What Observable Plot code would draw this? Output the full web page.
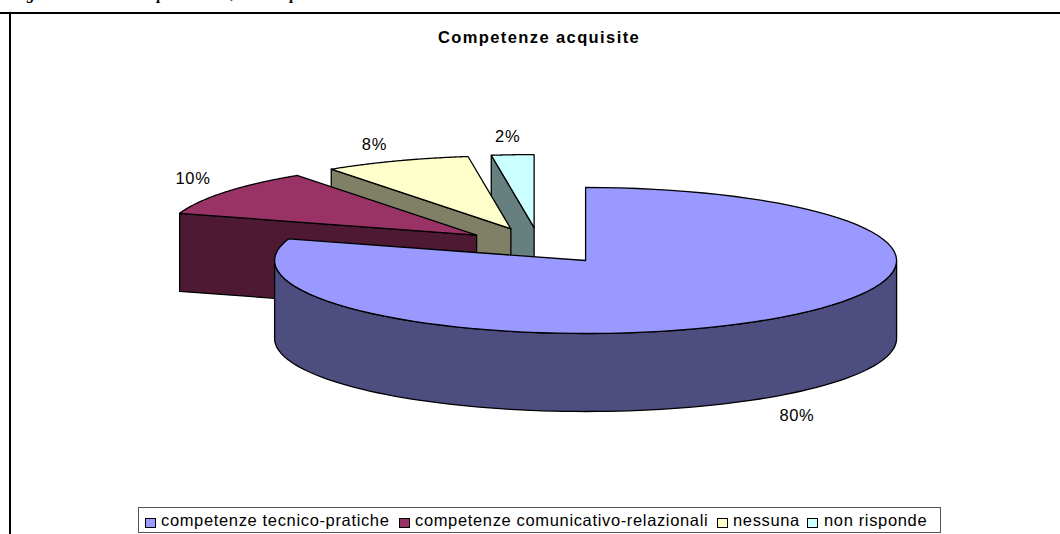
<!DOCTYPE html>
<html>
<head>
<meta charset="utf-8">
<script src="https://cdn.jsdelivr.net/npm/d3@7"></script>
<script src="https://cdn.jsdelivr.net/npm/@observablehq/plot@0.6"></script>
<style>
  html, body { margin: 0; padding: 0; background: #fff; }
  body { position: relative; width: 1060px; height: 534px; overflow: hidden; font-family: "Liberation Sans", Arial, sans-serif; color: #000; }
  svg { display: block; position: absolute; left: 0; top: 0; }
  .frag { position: absolute; top: -15px; font: italic bold 16px "Liberation Serif", serif; line-height: 18px; }
  #title { position: absolute; left: 0; width: 1078px; top: 28px; text-align: center; font-weight: bold; font-size: 16.5px; letter-spacing: 1.4px; line-height: 18px; }
  #legend { position: absolute; left: 138px; top: 507px; width: 803px; height: 26px; box-sizing: border-box; border: 1px solid #555; background: #fff; font-size: 16.5px; letter-spacing: 0.65px; white-space: nowrap; }
  #legend span.k { position: absolute; top: 10px; width: 9px; height: 8px; border: 1px solid #000; }
  #legend span.t { position: absolute; top: 3px; line-height: 18px; }
</style>
</head>
<body>
<script>
const chartTitle = "Competenze acquisite";
const categories = ["competenze tecnico-pratiche", "competenze comunicativo-relazionali", "nessuna", "non risponde"];
const shares = [79.8, 10.4, 7.6, 2.2];
const topColors = ["#9999FF", "#993366", "#FFFFCC", "#CCFFFF"];
const sideColors = ["#4D4D80", "#4D1933", "#808066", "#668080"];
const pctLabels = ["80%", "10%", "8%", "2%"];
const headingFragments = ["g", "p", ",", "p"];
const headingLefts = [27, 157, 231, 290];

// layout: a unit-radius pie seen from above, flattened by the two scales
const W = 1060, H = 534;
const cx = 539, cy = 245.3, rx = 311, ry = 73;
const explode = 0.25, depth = 78 / ry;
const labelNudge = [[27, 96], [-32, -13], [-22, -16], [-5, -18]];
const legendLefts = [[6, 22], [260, 276], [578, 594], [668, 685]];

const rad = (d) => (d * Math.PI) / 180;
const total = d3.sum(shares);
let acc = 0;
const slices = shares.map((v, i) => {
  const a0 = (acc / total) * 360;
  acc += v;
  const a1 = (acc / total) * 360;
  const mid = rad((a0 + a1) / 2);
  return { i, a0, a1, ox: explode * Math.sin(mid), oy: explode * Math.cos(mid) };
});
const pt = (s, a, r = 1, drop = 0) => ({ x: s.ox + r * Math.sin(rad(a)), y: s.oy + r * Math.cos(rad(a)) - drop });
const arc = (s, a0, a1, drop = 0) => d3.range(0, 1.0001, 1 / 90).map((t) => pt(s, a0 + (a1 - a0) * t, 1, drop));

const face = (points, fill) =>
  Plot.line([...points, points[0]], { x: "x", y: "y", fill, stroke: "#000", strokeWidth: 1.3, strokeLinejoin: "round", curve: "linear" });

// side of the cut edge of a slice
const cutWall = (s, a) => [pt(s, a), pt(s, 0, 0), pt(s, 0, 0, depth), pt(s, a, 1, depth)];

const marks = [];
// back to front
[3, 2, 1].forEach((i) => {
  const s = slices[i];
  marks.push(face(cutWall(s, s.a0), sideColors[i]));
  marks.push(face([pt(s, 0, 0), ...arc(s, s.a0, s.a1)], topColors[i]));
});
const m = slices[0];
marks.push(face([...arc(m, 90, 270), ...arc(m, 270, 90, depth)], sideColors[0]));
marks.push(face([pt(m, 0, 0), ...arc(m, m.a0, m.a1)], topColors[0]));
slices.forEach((s, i) => {
  const p = pt(s, (s.a0 + s.a1) / 2);
  marks.push(Plot.text([{ ...p, t: pctLabels[i] }], {
    x: "x", y: "y", text: "t", dx: labelNudge[i][0], dy: labelNudge[i][1],
    fontSize: 16.5, fontFamily: "Liberation Sans", fill: "#000"
  }));
});

const chart = Plot.plot({
  width: W, height: H, margin: 0,
  style: { background: "transparent", overflow: "visible" },
  x: { domain: [-cx / rx, (W - cx) / rx], range: [0, W], axis: null },
  y: { domain: [cy / ry, (cy - H) / ry], range: [0, H], axis: null },
  marks: [
    Plot.ruleY([cy / ry - 12.5 / ry], { stroke: "#000", strokeWidth: 2 }),
    Plot.ruleX([(9.5 - cx) / rx], { y1: cy / ry - 12.5 / ry, y2: (cy - H) / ry, stroke: "#000", strokeWidth: 2 }),
    ...marks
  ]
});
chart.querySelectorAll('g[aria-label="text"]').forEach((g) => (g.style.letterSpacing = "0.6px"));
document.body.appendChild(chart);

headingFragments.forEach((t, i) => {
  const d = document.createElement("div");
  d.className = "frag"; d.textContent = t; d.style.left = headingLefts[i] + "px";
  document.body.appendChild(d);
});
const ti = document.createElement("div");
ti.id = "title"; ti.textContent = chartTitle;
document.body.appendChild(ti);
const lg = document.createElement("div");
lg.id = "legend";
categories.forEach((c, i) => {
  const k = document.createElement("span");
  k.className = "k"; k.style.left = legendLefts[i][0] + "px"; k.style.background = topColors[i];
  const t = document.createElement("span");
  t.className = "t"; t.style.left = legendLefts[i][1] + "px"; t.textContent = c;
  lg.append(k, t);
});
document.body.appendChild(lg);
</script>
</body>
</html>
